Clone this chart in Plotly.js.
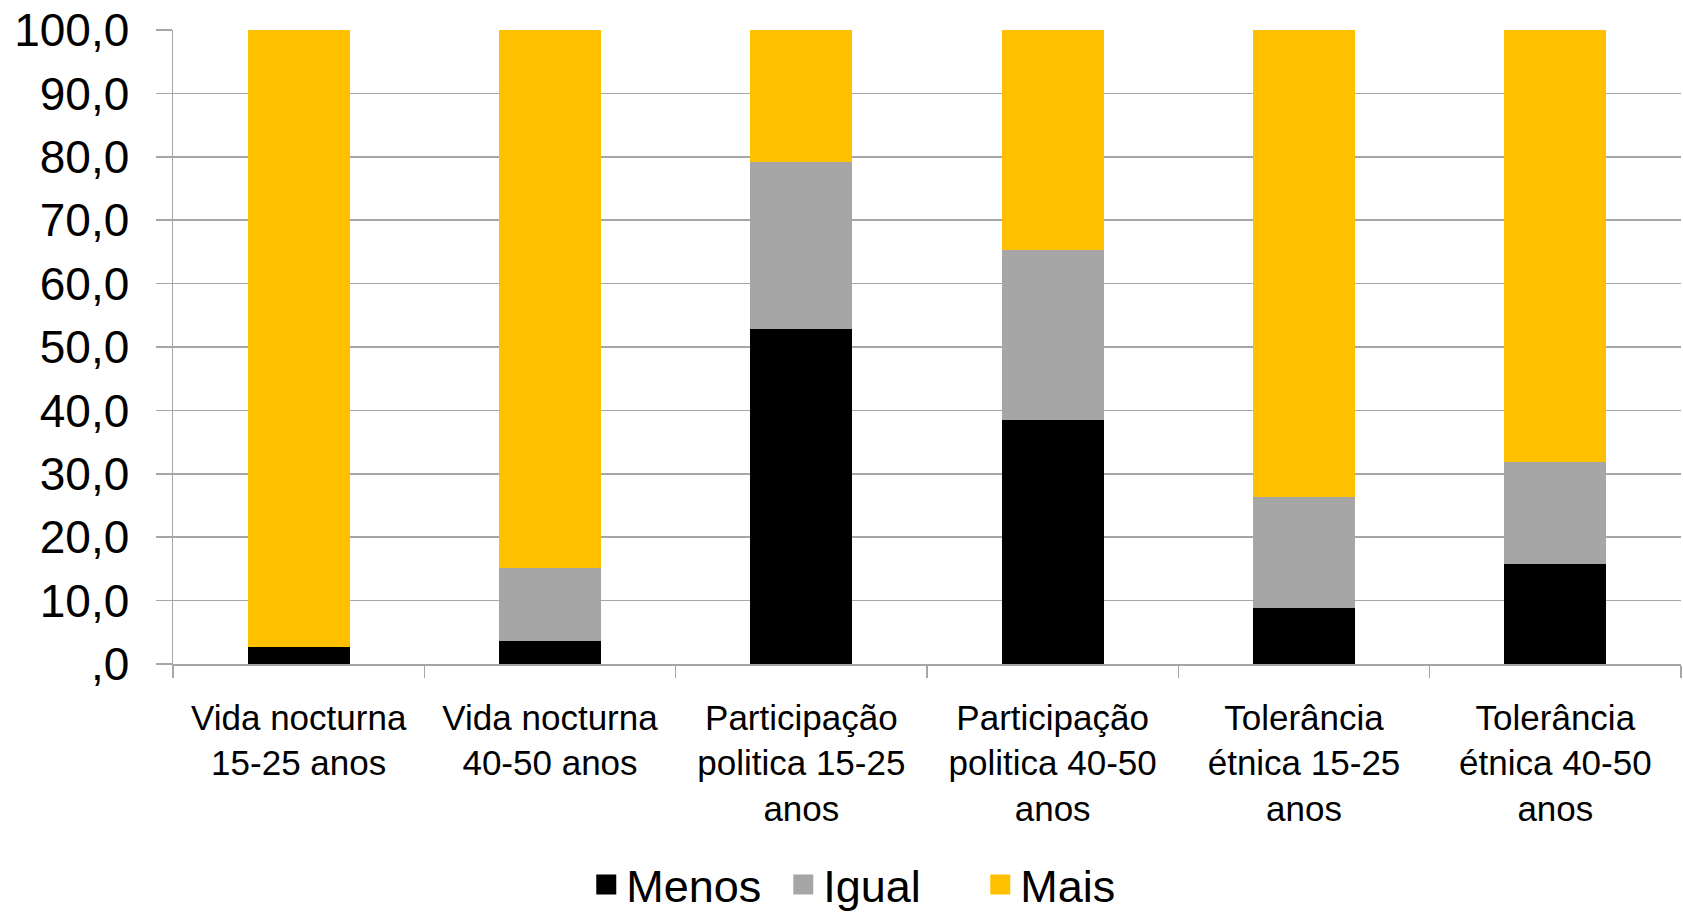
<!DOCTYPE html>
<html>
<head>
<meta charset="utf-8">
<script src="https://cdn.plot.ly/plotly-3.0.1.min.js"></script>
<style>html,body{margin:0;padding:0;background:#fff;}#chart{width:1683px;height:915px;}</style>
</head>
<body>
<div id="chart"></div>
<script>
const categories = [
  "Vida nocturna<br>15-25 anos",
  "Vida nocturna<br>40-50 anos",
  "Participação<br>politica 15-25<br>anos",
  "Participação<br>politica 40-50<br>anos",
  "Tolerância<br>étnica 15-25<br>anos",
  "Tolerância<br>étnica 40-50<br>anos"
];
const menos = [2.7, 3.7, 52.8, 38.5, 8.8, 15.8];
const igual = [0.0, 11.5, 26.4, 26.8, 17.5, 16.0];
const mais  = [97.3, 84.8, 20.8, 34.7, 73.7, 68.2];
const seriesNames = ["Menos", "Igual", "Mais"];
const seriesColors = ["#000000", "#a6a6a6", "#ffc000"];
const yTickVals = [0, 10, 20, 30, 40, 50, 60, 70, 80, 90, 100];
const yTickText = [",0", "10,0", "20,0", "30,0", "40,0", "50,0", "60,0", "70,0", "80,0", "90,0", "100,0"];

const seriesValues = [menos, igual, mais];
const font = "Liberation Sans, Arial, sans-serif";

const traces = [];
seriesValues.forEach((vals, i) => {
  traces.push({
    type: "bar",
    name: seriesNames[i],
    x: categories,
    y: vals,
    marker: {color: seriesColors[i], line: {width: 0}},
    showlegend: false,
    legendgroup: seriesNames[i],
    hoverinfo: "y+name"
  });
});
seriesValues.forEach((vals, i) => {
  traces.push({
    type: "scatter",
    mode: "markers",
    name: seriesNames[i],
    x: [null], y: [null],
    marker: {symbol: "square", size: 16, color: seriesColors[i], line: {width: 4, color: seriesColors[i]}},
    legendgroup: seriesNames[i],
    showlegend: true,
    hoverinfo: "skip"
  });
});

const layout = {
  width: 1683,
  height: 915,
  margin: {l: 173, r: 2, t: 30, b: 251, autoexpand: false},
  paper_bgcolor: "#ffffff",
  plot_bgcolor: "#ffffff",
  barmode: "stack",
  bargap: 0.595,
  showlegend: true,
  font: {family: font, color: "#000000"},
  xaxis: {
    type: "category",
    tickson: "boundaries",
    ticks: "outside",
    ticklen: 12,
    tickcolor: "#a6a6a6",
    tickwidth: 1.5,
    showline: true,
    linecolor: "#a6a6a6",
    linewidth: 1.5,
    showgrid: false,
    tickfont: {family: font, size: 35, color: "#000000"},
    ticklabelstandoff: 22,
    tickangle: 0,
    automargin: false,
    fixedrange: true
  },
  yaxis: {
    range: [0, 100],
    tickvals: yTickVals,
    ticktext: yTickText,
    ticks: "outside",
    ticklen: 16,
    tickcolor: "#a6a6a6",
    tickwidth: 1.5,
    showline: true,
    linecolor: "#a6a6a6",
    linewidth: 1.5,
    showgrid: true,
    gridcolor: "#a6a6a6",
    gridwidth: 1.5,
    zeroline: false,
    tickfont: {family: font, size: 46, color: "#000000"},
    ticklabelstandoff: 17,
    automargin: false,
    fixedrange: true
  },
  legend: {
    orientation: "h",
    x: 0.47,
    xanchor: "center",
    y: -0.348,
    yanchor: "middle",
    font: {family: font, size: 45, color: "#000000"},
    entrywidth: 152,
    bgcolor: "rgba(0,0,0,0)"
  }
};

Plotly.newPlot("chart", traces, layout, {displayModeBar: false, staticPlot: true});
</script>
</body>
</html>
